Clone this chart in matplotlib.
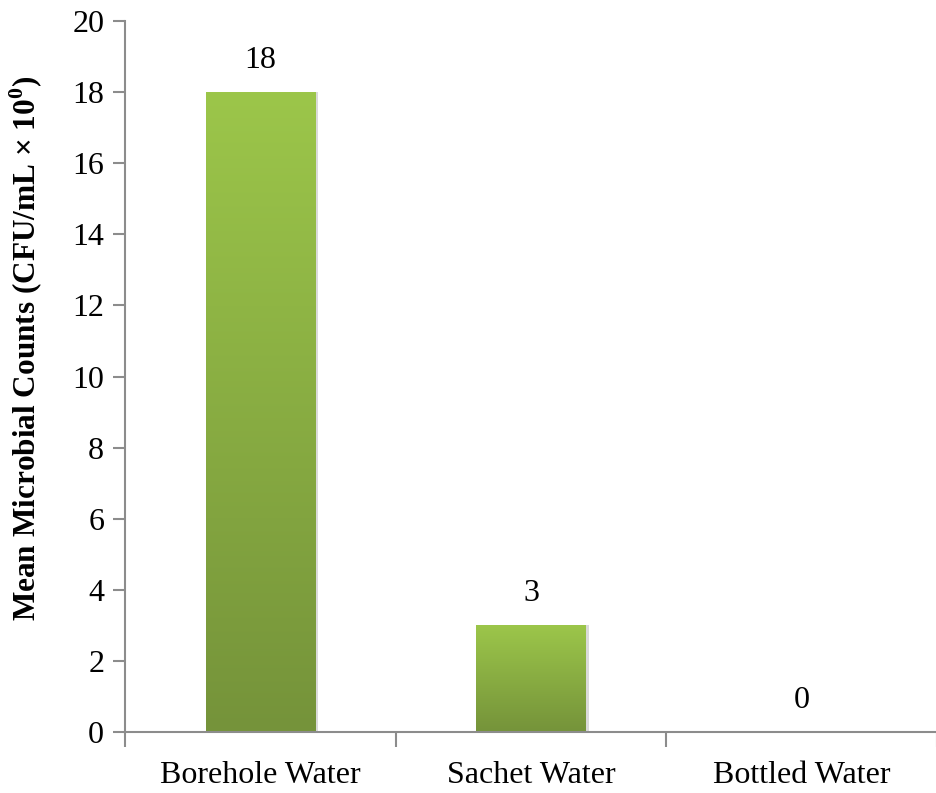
import matplotlib
matplotlib.use("Agg")
import matplotlib.pyplot as plt
import numpy as np
from matplotlib.colors import LinearSegmentedColormap

categories = ["Borehole Water", "Sachet Water", "Bottled Water"]
counts = [18, 3, 0]
y_ticks = [0, 2, 4, 6, 8, 10, 12, 14, 16, 18, 20]

plt.rcParams["font.family"] = ["Liberation Serif", "DejaVu Serif"]

fig = plt.figure(figsize=(9.37, 7.93), dpi=100)
ax = fig.add_axes([125 / 937, 1 - 732 / 793, (937 - 125) / 937, (732 - 21) / 793])

x = np.arange(len(categories))
bars = ax.bar(x, counts, width=0.405, color="none", edgecolor="none", zorder=2)

# vertical green gradient inside each bar: light at the top, darker at the base
green = LinearSegmentedColormap.from_list("grn", ["#75933a", "#9cc64a"])
grad = np.linspace(0, 1, 256).reshape(-1, 1)
for b in bars:
    h = b.get_height()
    if h <= 0:
        continue
    x0, w = b.get_x(), b.get_width()
    # soft shadow on the right edge
    ax.add_patch(plt.Rectangle((x0 + w, 0), 0.01, h, color="#dadada", lw=0, zorder=1))
    im = ax.imshow(grad, cmap=green, origin="lower", aspect="auto",
                   extent=(x0, x0 + w, 0, h), zorder=2)
    im.set_clip_path(b)

for xi, v in zip(x, counts):
    ax.annotate(f"{v}", (xi, v), xytext=(0, 23), textcoords="offset points",
                ha="center", va="center", fontsize=23)

ax.set_xlim(-0.5, len(categories) - 0.5)
ax.set_ylim(0, 20)
ax.set_yticks(y_ticks)
ax.set_xticks(x)
ax.set_xticklabels(categories, fontsize=23)
ax.set_xticks(np.arange(-0.5, len(categories)), minor=True)
ax.tick_params(axis="x", which="major", length=0, pad=21)
ax.tick_params(axis="x", which="minor", length=11, width=1.5, color="#8c8c8c", direction="out")
ax.tick_params(axis="y", length=9, width=1.5, color="#8c8c8c", labelsize=23, pad=6)

for s in ["top", "right"]:
    ax.spines[s].set_visible(False)
for s in ["left", "bottom"]:
    ax.spines[s].set_color("#8c8c8c")
    ax.spines[s].set_linewidth(1.5)

ax.set_ylabel("Mean Microbial Counts (CFU/mL × 10$^{\\mathregular{0}}$)",
              fontsize=22.5, fontweight="bold")
ax.yaxis.set_label_coords(-0.098, 0.54)

fig.savefig("out.png", dpi=100)
